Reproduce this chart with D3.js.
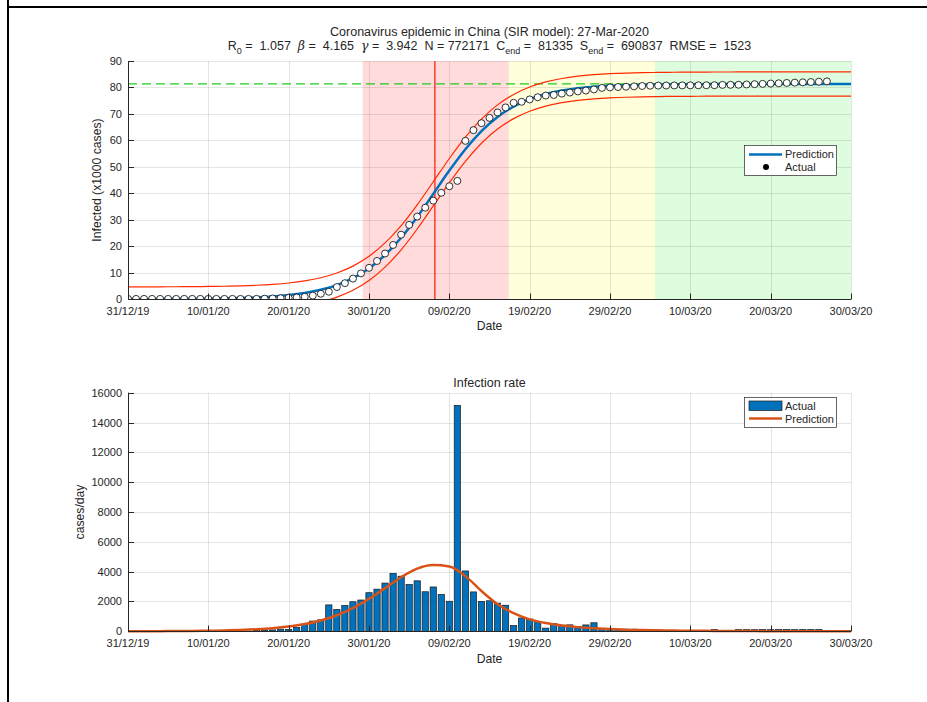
<!DOCTYPE html>
<html>
<head>
<meta charset="utf-8">
<script src="https://cdn.jsdelivr.net/npm/d3@7"></script>
<style>
  body { margin: 0; background: #fff; }
  svg text { font-family: "Liberation Sans", Arial, Helvetica, sans-serif; fill: #262626; }
</style>
</head>
<body>
<svg id="chart" width="927" height="702"></svg>
<script>
// ---- data ----
// days counted from 31/12/19
const tickDays = [0, 10, 20, 30, 40, 50, 60, 70, 80, 90];
const tickLabels = ["31/12/19", "10/01/20", "20/01/20", "30/01/20", "09/02/20",
                    "19/02/20", "29/02/20", "10/03/20", "20/03/20", "30/03/20"];

// cumulative confirmed cases, one per day starting day 0
const actualCases = [41, 41, 41, 41, 41, 41, 41, 41, 41, 41, 41, 41, 41, 41, 41,
  45, 62, 121, 198, 291, 440, 571, 830, 1287, 1975, 2744, 4515, 5974, 7711, 9692,
  11791, 14380, 17205, 20438, 24324, 28018, 31161, 34546, 37198, 40171, 42638, 44653,
  59804, 63851, 66492, 68500, 70548, 72436, 74185, 74576, 75465, 76288, 76936, 77150,
  77658, 78064, 78497, 78824, 79251, 79824, 80026, 80151, 80270, 80409, 80552, 80651,
  80695, 80735, 80754, 80778, 80793, 80813, 80824, 80844, 80960, 80990, 81020, 81130,
  81240, 81350, 81470, 81580, 81700, 81820, 81930, 82050, 82170, 82290];

// model curves sampled every 2 days
const predDays = [0, 2, 4, 6, 8, 10, 12, 14, 16, 18, 20, 22, 24, 26, 28, 30, 32, 34, 36, 38,
  40, 42, 44, 46, 48, 50, 52, 54, 56, 58, 60, 62, 64, 66, 68, 70, 72, 74, 76, 78, 80, 82,
  84, 86, 88, 90];
// infected, x1000 cases
const predInfected = [0.02, 0.03, 0.05, 0.07, 0.11, 0.17, 0.26, 0.40, 0.62, 0.96, 1.48,
  2.28, 3.47, 5.26, 7.86, 11.57, 16.63, 23.17, 31.04, 39.76, 48.56, 56.65, 63.47, 68.84,
  72.78, 75.59, 77.52, 78.82, 79.68, 80.25, 80.62, 80.86, 81.01, 81.12, 81.18, 81.22,
  81.25, 81.27, 81.28, 81.29, 81.30, 81.30, 81.31, 81.31, 81.31, 81.31];
const upperBound = [4.59, 4.60, 4.62, 4.64, 4.68, 4.74, 4.83, 4.97, 5.19, 5.53, 6.05,
  6.85, 8.04, 9.83, 12.43, 16.14, 21.20, 27.74, 35.61, 44.33, 53.13, 61.22, 68.04, 73.41,
  77.35, 80.16, 82.09, 83.39, 84.25, 84.82, 85.19, 85.43, 85.58, 85.69, 85.75, 85.79,
  85.82, 85.84, 85.85, 85.86, 85.87, 85.87, 85.88, 85.88, 85.88, 85.88];
const lowerBound = [-4.55, -4.54, -4.52, -4.50, -4.46, -4.40, -4.31, -4.17, -3.95, -3.61,
  -3.09, -2.29, -1.10, 0.69, 3.29, 7.00, 12.06, 18.60, 26.47, 35.19, 43.99, 52.08, 58.90,
  64.27, 68.21, 71.02, 72.95, 74.25, 75.11, 75.68, 76.05, 76.29, 76.44, 76.55, 76.61,
  76.65, 76.68, 76.70, 76.71, 76.72, 76.73, 76.73, 76.74, 76.74, 76.74, 76.74];
// predicted infection rate, cases/day
const predRate = [4, 6, 10, 15, 24, 37, 57, 88, 136, 208, 320, 484, 728, 1076, 1556, 2172,
  2896, 3627, 4203, 4440, 4350, 3700, 2700, 1820, 1220, 800, 550, 390, 280, 210, 160, 110,
  85, 65, 50, 38, 30, 22, 17, 13, 10, 8, 6, 5, 4, 3];

const phaseEdges = [29.2, 47.4, 65.6, 90];   // red / yellow / green bands
const peakDay = 38.2;
const finalSize = 81.335;                     // C_end in thousands

const topTicks = [0, 10, 20, 30, 40, 50, 60, 70, 80, 90];
const rateTicks = [0, 2000, 4000, 6000, 8000, 10000, 12000, 14000, 16000];

// ---- drawing ----
const svg = d3.select("#chart");
const L = 128, R = 851;
const x = d3.scaleLinear().domain([0, 90]).range([L, R]);
const yTop = d3.scaleLinear().domain([0, 90]).range([299, 61]);
const yBot = d3.scaleLinear().domain([0, 16000]).range([631.3, 392.7]);
const blue = "#0072BD", orange = "#D95319";
const tickFont = 11, labelFont = 12.2, titleFont = 12.5;

// screenshot frame
svg.append("line").attr("x1", 8).attr("x2", 8).attr("y1", 0).attr("y2", 702)
  .attr("stroke", "#000").attr("stroke-width", 2);
svg.append("line").attr("x1", 8).attr("x2", 927).attr("y1", 7).attr("y2", 7)
  .attr("stroke", "#000").attr("stroke-width", 2);

function drawGrid(y, ticks) {
  const g = svg.append("g");
  const [y0, y1] = y.range();
  g.selectAll(".gx").data(tickDays).enter().append("line")
    .attr("x1", d => Math.round(x(d)) + 0.5).attr("x2", d => Math.round(x(d)) + 0.5)
    .attr("y1", y0).attr("y2", y1)
    .attr("stroke", "#262626").attr("stroke-opacity", 0.12);
  g.selectAll(".gy").data(ticks).enter().append("line")
    .attr("x1", L).attr("x2", R)
    .attr("y1", d => Math.round(y(d)) + 0.5).attr("y2", d => Math.round(y(d)) + 0.5)
    .attr("stroke", "#262626").attr("stroke-opacity", 0.12);
}

function drawFrame(y, ticks, yLabel, yLabelX, dateY) {
  const g = svg.append("g");
  const [y0, y1] = y.range();
  const yb = Math.round(y0) + 0.5, xl = L + 0.5;
  g.append("line").attr("x1", xl).attr("x2", xl).attr("y1", y1).attr("y2", yb)
    .attr("stroke", "#262626");
  g.append("line").attr("x1", L).attr("x2", R).attr("y1", yb).attr("y2", yb)
    .attr("stroke", "#262626");
  // inward ticks
  g.selectAll(".ty").data(ticks).enter().append("line")
    .attr("x1", L).attr("x2", L + 6)
    .attr("y1", d => Math.round(y(d)) + 0.5).attr("y2", d => Math.round(y(d)) + 0.5)
    .attr("stroke", "#262626");
  g.selectAll(".tx").data(tickDays).enter().append("line")
    .attr("x1", d => Math.round(x(d)) + 0.5).attr("x2", d => Math.round(x(d)) + 0.5)
    .attr("y1", yb).attr("y2", yb - 6)
    .attr("stroke", "#262626");
  g.selectAll(".ly").data(ticks).enter().append("text")
    .attr("x", 122).attr("y", d => y(d) + 4)
    .attr("text-anchor", "end").attr("font-size", tickFont)
    .text(d => d);
  g.selectAll(".lx").data(tickDays).enter().append("text")
    .attr("x", d => x(d)).attr("y", y0 + 16)
    .attr("text-anchor", "middle").attr("font-size", tickFont)
    .text((d, i) => tickLabels[i]);
  g.append("text").attr("x", (L + R) / 2).attr("y", dateY)
    .attr("text-anchor", "middle").attr("font-size", labelFont).text("Date");
  g.append("text")
    .attr("transform", `translate(${yLabelX},${(y0 + y1) / 2}) rotate(-90)`)
    .attr("text-anchor", "middle").attr("font-size", labelFont).text(yLabel);
}

// ---- top panel ----
svg.append("clipPath").attr("id", "clipTop").append("rect")
  .attr("x", L).attr("y", 61).attr("width", R - L).attr("height", 238);

const bandColors = ["rgba(255,0,0,0.14)", "rgba(255,255,0,0.14)", "rgba(0,230,0,0.13)"];
svg.append("g").selectAll("rect").data(d3.pairs(phaseEdges)).enter().append("rect")
  .attr("x", d => x(d[0])).attr("width", d => x(d[1]) - x(d[0]))
  .attr("y", 61).attr("height", 238)
  .attr("fill", (d, i) => bandColors[i]);

drawGrid(yTop, topTicks);

const topPlot = svg.append("g").attr("clip-path", "url(#clipTop)");
topPlot.append("line").attr("x1", L).attr("x2", R)
  .attr("y1", yTop(finalSize)).attr("y2", yTop(finalSize))
  .attr("stroke", "#1fcc1f").attr("stroke-width", 1.2).attr("stroke-dasharray", "9,5");
topPlot.append("line").attr("x1", x(peakDay)).attr("x2", x(peakDay))
  .attr("y1", 61).attr("y2", 299)
  .attr("stroke", "#ff3a2a").attr("stroke-width", 1.5);

const lineTop = vals => d3.line()
  .x((d, i) => x(predDays[i])).y(d => yTop(d))
  .curve(d3.curveMonotoneX)(vals);
topPlot.append("path").attr("d", lineTop(predInfected))
  .attr("fill", "none").attr("stroke", blue).attr("stroke-width", 2.5);
[upperBound, lowerBound].forEach(b => {
  topPlot.append("path").attr("d", lineTop(b))
    .attr("fill", "none").attr("stroke", "#ff2a00").attr("stroke-width", 1.2);
});
topPlot.selectAll("circle").data(actualCases).enter().append("circle")
  .attr("cx", (d, i) => x(i)).attr("cy", d => yTop(d / 1000)).attr("r", 3.5)
  .attr("fill", "#fff").attr("stroke", "#000").attr("stroke-width", 0.8);

drawFrame(yTop, topTicks, "Infected (x1000 cases)", 101, 330);

// titles
svg.append("text").attr("x", (L + R) / 2).attr("y", 36)
  .attr("text-anchor", "middle").attr("font-size", titleFont)
  .text("Coronavirus epidemic in China (SIR model): 27-Mar-2020");
const sub = svg.append("text").attr("x", (L + R) / 2).attr("y", 50)
  .attr("text-anchor", "middle").attr("font-size", titleFont).style("white-space", "pre");
const parts = [
  ["R"], ["0", "sub"], [" =  1.057  "], ["\u03B2", "it"], [" =  4.165  "], ["\u03B3", "it"],
  [" =  3.942  N = 772171  C"], ["end", "sub"], [" =  81335  S"], ["end", "sub"],
  [" =  690837  RMSE =  1523"]
];
parts.forEach(([t, k], i) => {
  const s = sub.append("tspan").text(t);
  const prevSub = i > 0 && parts[i - 1][1] === "sub";
  if (k === "sub") s.attr("font-size", 9).attr("dy", 4);
  else if (prevSub) s.attr("dy", -4);
  if (k === "it") s.attr("font-style", "italic").attr("font-family", "DejaVu Serif");
});

// legend top
const lg1 = svg.append("g");
lg1.append("rect").attr("x", 744.5).attr("y", 145.5).attr("width", 92).attr("height", 30)
  .attr("fill", "#fff").attr("stroke", "#262626").attr("stroke-width", 0.7);
lg1.append("line").attr("x1", 749).attr("x2", 782).attr("y1", 154.5).attr("y2", 154.5)
  .attr("stroke", blue).attr("stroke-width", 2.5);
lg1.append("circle").attr("cx", 766).attr("cy", 167).attr("r", 3).attr("fill", "#000");
lg1.append("text").attr("x", 785).attr("y", 158).attr("font-size", tickFont).text("Prediction");
lg1.append("text").attr("x", 785).attr("y", 171).attr("font-size", tickFont).text("Actual");

// ---- bottom panel ----
drawGrid(yBot, rateTicks);
const daily = d3.pairs(actualCases, (a, b) => b - a);
const bw = (x(1) - x(0)) * 0.78;
svg.append("g").selectAll("rect").data(daily).enter().append("rect")
  .attr("x", (d, i) => x(i) - bw / 2).attr("width", bw)
  .attr("y", d => yBot(d)).attr("height", d => yBot(0) - yBot(d))
  .attr("fill", blue).attr("stroke", "#1a1a1a").attr("stroke-width", 0.7);
svg.append("path")
  .attr("d", d3.line().x((d, i) => x(predDays[i])).y(d => yBot(d)).curve(d3.curveMonotoneX)(predRate))
  .attr("fill", "none").attr("stroke", orange).attr("stroke-width", 2.5);

drawFrame(yBot, rateTicks, "cases/day", 84, 663);
svg.append("text").attr("x", (L + R) / 2).attr("y", 387)
  .attr("text-anchor", "middle").attr("font-size", titleFont).text("Infection rate");

// legend bottom
const lg2 = svg.append("g");
lg2.append("rect").attr("x", 744.5).attr("y", 397.5).attr("width", 92).attr("height", 30)
  .attr("fill", "#fff").attr("stroke", "#262626").attr("stroke-width", 0.7);
lg2.append("rect").attr("x", 749).attr("y", 401).attr("width", 33).attr("height", 9.5)
  .attr("fill", blue).attr("stroke", "#1a1a1a").attr("stroke-width", 0.7);
lg2.append("line").attr("x1", 749).attr("x2", 782).attr("y1", 418.5).attr("y2", 418.5)
  .attr("stroke", orange).attr("stroke-width", 2.5);
lg2.append("text").attr("x", 785).attr("y", 410).attr("font-size", tickFont).text("Actual");
lg2.append("text").attr("x", 785).attr("y", 422.5).attr("font-size", tickFont).text("Prediction");
</script>
</body>
</html>
